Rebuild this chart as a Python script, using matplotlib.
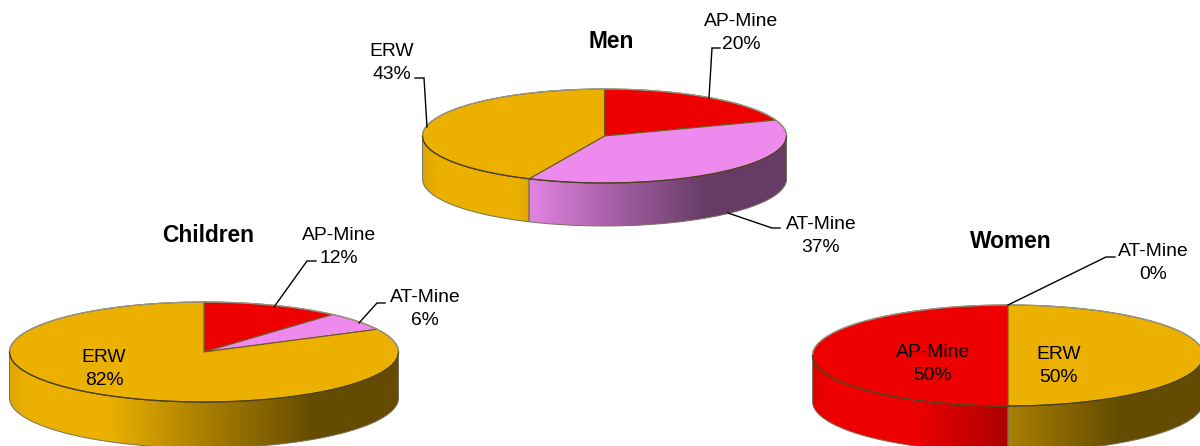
import numpy as np
import matplotlib
matplotlib.use("Agg")
import matplotlib.pyplot as plt
from matplotlib.patches import Polygon

plt.rcParams["font.family"] = ["Liberation Sans", "DejaVu Sans"]

# Data: slice sizes, printed labels are rounded
categories = ["AP-Mine", "AT-Mine", "ERW"]
men = [19.5, 37.3, 43.2]
children = [11.5, 6.0, 82.5]
women = [50, 0, 50]
men_labels = [20, 37, 43]
children_labels = [12, 6, 82]
women_labels = [50, 0, 50]

colors = {"AP-Mine": "#EE0000", "AT-Mine": "#EE8AEE", "ERW": "#EBB000"}

# wall shading from left to right of the pie
shade_t = [0, 0.04, 0.25, 0.5, 0.78, 1]
shade_f = [0.94, 1, 1, 0.72, 0.43, 0.43]

fig = plt.figure(figsize=(12, 4.46), dpi=100)
ax = fig.add_axes([0, 0, 1, 1])


def arc(cx, cy, rx, ry, a, b, n=120):
    th = np.radians(np.linspace(a, b, n))
    return cx + rx * np.sin(th), cy - ry * np.cos(th)


def draw_pie(values, cx, cy, rx, ry, depth, start):
    angles = start + np.cumsum([0] + list(values)) * 3.6
    xs = np.linspace(0, 1, 500)
    grad = np.interp(xs, shade_t, shade_f)

    # side wall
    for i, cat in enumerate(categories):
        a, b = angles[i], angles[i + 1]
        if values[i] == 0:
            continue
        for lo, hi in [(90, 270), (450, 630)]:
            a2, b2 = max(a, lo), min(b, hi)
            if a2 >= b2:
                continue
            x, y = arc(cx, cy, rx, ry, a2, b2)
            pts = np.vstack([np.c_[x, y], np.c_[x[::-1], y[::-1] + depth]])
            rgb = np.array(matplotlib.colors.to_rgb(colors[cat]))
            img = (grad[:, None] * rgb)[None, :, :]
            poly = Polygon(pts, closed=True, fc="none", ec="none")
            ax.add_patch(poly)
            im = ax.imshow(img, extent=[cx - rx, cx + rx, cy + depth + ry, cy - ry],
                           aspect="auto", zorder=1, interpolation="bilinear")
            im.set_clip_path(poly)
            ax.add_patch(Polygon(pts, closed=True, fc="none", ec="#77705c", lw=0.7, zorder=2))

    # top face
    for i, cat in enumerate(categories):
        if values[i] == 0:
            continue
        x, y = arc(cx, cy, rx, ry, angles[i], angles[i + 1])
        pts = np.vstack([[cx, cy], np.c_[x, y]])
        ax.add_patch(Polygon(pts, closed=True, fc=colors[cat], ec="#6a5a20", lw=0.8,
                             joinstyle="round", zorder=3))
    # rim: grey at the back, dark at the front
    x, y = arc(cx, cy, rx, ry, -90, 90, 150)
    ax.plot(x, y, color="#9a9588", lw=0.9, zorder=4)
    x, y = arc(cx, cy, rx, ry, 90, 270, 150)
    ax.plot(x, y, color="#4a3f20", lw=0.9, zorder=4)


def label(x, y, cat, val):
    ax.text(x, y, f"{cat}\n{val}%", ha="center", va="center", fontsize=13.9,
            color="black", linespacing=1.4, zorder=6)


def leader(xs, ys):
    ax.plot(xs, ys, color="black", lw=1.0, zorder=5, solid_joinstyle="miter")


draw_pie(men, 604.5, 136, 182, 47, 43, 0)
draw_pie(children, 204, 352, 194.5, 50, 46, 0)
draw_pie(women, 1008, 355.5, 195.5, 50.5, 46, 180)

# titles
ax.text(611, 41, "Men", ha="center", va="center", fontsize=16.4, fontweight="bold")
ax.text(208, 236, "Children", ha="center", va="center", fontsize=16.4, fontweight="bold")
ax.text(1011, 241, "Women", ha="center", va="center", fontsize=16.4, fontweight="bold")

# men labels
label(741, 33, "AP-Mine", men_labels[0])
label(821, 236, "AT-Mine", men_labels[1])
label(392, 63, "ERW", men_labels[2])
leader([709, 712, 720], [98, 48, 48])
leader([728, 772, 780], [213, 228, 228])
leader([427, 424, 415], [127, 78, 78])

# children labels
label(339, 247, "AP-Mine", children_labels[0])
label(425, 309, "AT-Mine", children_labels[1])
label(104, 369, "ERW", children_labels[2])
leader([274, 307, 316], [307, 261, 261])
leader([359, 377, 385], [323, 303, 303])

# women labels
label(933, 364, "AP-Mine", women_labels[0])
label(1153, 263, "AT-Mine", women_labels[1])
label(1059, 366, "ERW", women_labels[2])
leader([1008, 1106, 1115], [305, 257, 257])

ax.set_xlim(0, 1200)
ax.set_ylim(446, 0)
ax.axis("off")

fig.savefig("out.png", dpi=100, facecolor="white")
